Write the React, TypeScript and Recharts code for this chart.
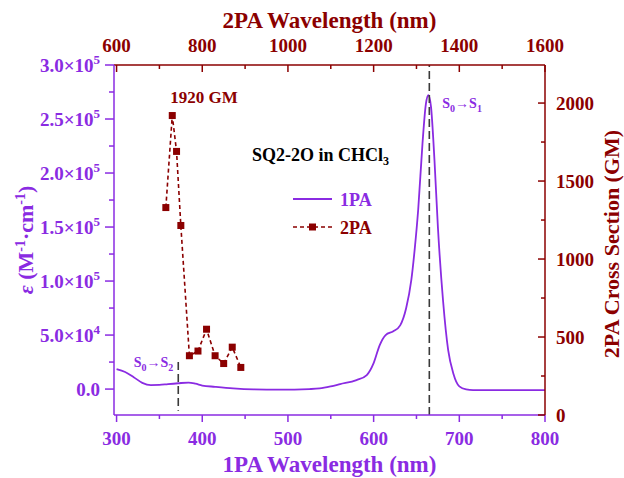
import React from 'react';
import {
  ComposedChart,
  Line,
  XAxis,
  YAxis,
  ReferenceLine,
  Label,
  LabelList,
} from 'recharts';

const PURPLE = '#8a2be2';
const DARKRED = '#8b0000';
const DASHGRAY = '#3a3a3a';
const FONT = "'Liberation Serif', 'Times New Roman', Times, serif";

// 1PA absorption: wavelength (nm) and molar extinction coefficient ε (M⁻¹·cm⁻¹)
const onePAWavelength = [
  300, 310, 320, 330, 340, 350, 360, 372, 384, 392,
  400, 415, 436, 460, 490, 525, 537, 550, 561, 580,
  592, 600, 607, 614, 623, 631, 638, 644, 648, 652,
  657, 661, 664, 667, 671, 675, 681, 687, 693, 700,
  708, 716, 750, 800,
];
const onePAEpsilon = [
  18500, 15800, 11000, 5800, 3700, 3800, 4600, 5400, 6000, 5000,
  3300, 2100, 650, -300, -600, 0, 600, 2500, 4600, 8300,
  13000, 24000, 40500, 50000, 53500, 59000, 75000, 101000, 130000, 166000,
  227000, 264000, 272000, 261000, 212000, 150000, 82000, 36000, 14500, 2500,
  -300, -900, -900, -900,
];

// 2PA cross section: excitation wavelength (nm) and σ2 (GM)
const twoPAWavelength = [715, 730, 740, 750, 770, 790, 810, 830, 850, 870, 890];
const twoPACrossSection = [1330, 1920, 1690, 1215, 380, 410, 550, 380, 330, 435, 305];

// Transition markers (nm)
const s0s1Wavelength = 665;
const s0s2Wavelength = 372;

// Axis ticks
const bottomTicks = [300, 350, 400, 450, 500, 550, 600, 650, 700, 750, 800];
const bottomMajor = [300, 400, 500, 600, 700, 800];
const topTicks = [600, 700, 800, 900, 1000, 1100, 1200, 1300, 1400, 1500, 1600];
const topMajor = [600, 800, 1000, 1200, 1400, 1600];
const leftTicks = [
  0, 25000, 50000, 75000, 100000, 125000, 150000, 175000, 200000, 225000, 250000, 275000, 300000,
];
const leftMajor = [0, 50000, 100000, 150000, 200000, 250000, 300000];
const rightTicks = [0, 250, 500, 750, 1000, 1250, 1500, 1750, 2000];
const rightMajor = [0, 500, 1000, 1500, 2000];

const onePAData = onePAWavelength.map((wl, i) => ({ wl, eps: onePAEpsilon[i] }));
const twoPAData = twoPAWavelength.map((wl, i) => ({ wl, gm: twoPACrossSection[i] }));
const peakIndex = twoPACrossSection.indexOf(Math.max(...twoPACrossSection));

const textStyle = { fontFamily: FONT, fontWeight: 700 } as const;

type Side = 'bottom' | 'top' | 'left' | 'right';

function sciLabel(v: number, color: string, x: number, y: number) {
  if (v === 0) {
    return (
      <text x={x} y={y} textAnchor="end" fill={color} fontSize={19} style={textStyle}>
        0.0
      </text>
    );
  }
  const exp = Math.floor(Math.log10(v));
  const mant = (v / Math.pow(10, exp)).toFixed(1);
  return (
    <text x={x} y={y} textAnchor="end" fill={color} fontSize={19} style={textStyle}>
      {mant}×10
      <tspan dy={-8} fontSize={13}>
        {exp}
      </tspan>
    </text>
  );
}

function makeTick(side: Side, color: string, majors: number[]) {
  return (props: any) => {
    const { x, y, payload, index } = props;
    const v = payload.value as number;
    const major = majors.includes(v);
    const len = major ? 7 : 4;
    let line: React.ReactNode = null;
    let label: React.ReactNode = null;
    if (side === 'bottom') {
      line = <line x1={x} x2={x} y1={y} y2={y + len} stroke={color} strokeWidth={1.5} />;
      if (major)
        label = (
          <text x={x} y={y + 30} textAnchor="middle" fill={color} fontSize={19} style={textStyle}>
            {v}
          </text>
        );
    } else if (side === 'top') {
      line = <line x1={x} x2={x} y1={y} y2={y + len} stroke={color} strokeWidth={1.5} />;
      if (major)
        label = (
          <text x={x} y={y - 13} textAnchor="middle" fill={color} fontSize={19} style={textStyle}>
            {v}
          </text>
        );
    } else if (side === 'left') {
      const l = major ? 9 : 5;
      line = <line x1={x - l} x2={x} y1={y} y2={y} stroke={color} strokeWidth={1.5} />;
      if (major) label = sciLabel(v, color, x - 14, y + 7);
    } else {
      line = <line x1={x - len} x2={x} y1={y} y2={y} stroke={color} strokeWidth={1.5} />;
      if (major)
        label = (
          <text x={x + 11} y={y + 7} textAnchor="start" fill={color} fontSize={19} style={textStyle}>
            {v}
          </text>
        );
    }
    return (
      <g key={`${side}-${index}`}>
        {line}
        {label}
      </g>
    );
  };
}

const SquareDot = (props: any) => {
  const { cx, cy, index } = props;
  if (cx == null || cy == null) return <g key={`sq-${index}`} />;
  return <rect key={`sq-${index}`} x={cx - 3.5} y={cy - 3.5} width={7} height={7} fill={DARKRED} />;
};

export default function App() {
  return (
    <div style={{ position: 'absolute', left: 0, top: 0, width: 624, height: 478, background: '#fff' }}>
      <ComposedChart width={624} height={478} margin={{ top: 0, right: 0, bottom: 0, left: 0 }}>
        <XAxis
          xAxisId="b"
          type="number"
          dataKey="wl"
          orientation="bottom"
          domain={[297, 800]}
          ticks={bottomTicks}
          interval={0}
          allowDataOverflow
          height={63}
          tickSize={0}
          tickMargin={0}
          tickLine={false}
          axisLine={{ stroke: PURPLE, strokeWidth: 1.5 }}
          tick={makeTick('bottom', PURPLE, bottomMajor)}
        >
          <Label
            content={(p: any) => {
              const vb = p.viewBox;
              return (
                <text x={vb.x + vb.width / 2} y={vb.y + 57} textAnchor="middle" fill={PURPLE} fontSize={23} style={textStyle}>
                  1PA Wavelength (nm)
                </text>
              );
            }}
          />
        </XAxis>
        <XAxis
          xAxisId="t"
          type="number"
          dataKey="wl"
          orientation="top"
          domain={[594, 1600]}
          ticks={topTicks}
          interval={0}
          allowDataOverflow
          height={65}
          tickSize={0}
          tickMargin={0}
          tickLine={false}
          axisLine={{ stroke: DARKRED, strokeWidth: 1.5 }}
          tick={makeTick('top', DARKRED, topMajor)}
        >
          <Label
            content={(p: any) => {
              const vb = p.viewBox;
              return (
                <text x={vb.x + vb.width / 2} y={vb.y + 28} textAnchor="middle" fill={DARKRED} fontSize={23} style={textStyle}>
                  2PA Wavelength (nm)
                </text>
              );
            }}
          />
        </XAxis>
        <YAxis
          yAxisId="l"
          type="number"
          orientation="left"
          domain={[-24000, 300000]}
          ticks={leftTicks}
          interval={0}
          allowDataOverflow
          width={114}
          tickSize={0}
          tickMargin={0}
          tickLine={false}
          axisLine={{ stroke: PURPLE, strokeWidth: 1.5 }}
          tick={makeTick('left', PURPLE, leftMajor)}
        >
          <Label
            content={(p: any) => {
              const vb = p.viewBox;
              const cx = vb.x + 33;
              const cy = vb.y + vb.height / 2;
              return (
                <text
                  x={cx}
                  y={cy}
                  transform={`rotate(-90 ${cx} ${cy})`}
                  textAnchor="middle"
                  fill={PURPLE}
                  fontSize={22}
                  style={textStyle}
                >
                  <tspan fontStyle="italic">ε</tspan> (M
                  <tspan dy={-8} fontSize={14}>-1</tspan>
                  <tspan dy={8}>·cm</tspan>
                  <tspan dy={-8} fontSize={14}>-1</tspan>
                  <tspan dy={8}>)</tspan>
                </text>
              );
            }}
          />
        </YAxis>
        <YAxis
          yAxisId="r"
          type="number"
          orientation="right"
          domain={[0, 2244]}
          ticks={rightTicks}
          interval={0}
          allowDataOverflow
          width={79}
          tickSize={0}
          tickMargin={0}
          tickLine={false}
          axisLine={{ stroke: DARKRED, strokeWidth: 1.5 }}
          tick={makeTick('right', DARKRED, rightMajor)}
        >
          <Label
            content={(p: any) => {
              const vb = p.viewBox;
              const cx = vb.x + 74;
              const cy = vb.y + vb.height / 2 + 4;
              return (
                <text
                  x={cx}
                  y={cy}
                  transform={`rotate(-90 ${cx} ${cy})`}
                  textAnchor="middle"
                  fill={DARKRED}
                  fontSize={22}
                  style={textStyle}
                >
                  2PA Cross Section (GM)
                </text>
              );
            }}
          />
        </YAxis>

        <Line
          xAxisId="b"
          yAxisId="l"
          data={onePAData}
          dataKey="eps"
          type="monotone"
          stroke={PURPLE}
          strokeWidth={1.8}
          dot={false}
          isAnimationActive={false}
        />
        <Line
          xAxisId="t"
          yAxisId="r"
          data={twoPAData}
          dataKey="gm"
          type="linear"
          stroke={DARKRED}
          strokeWidth={1.6}
          strokeDasharray="4 3"
          dot={SquareDot}
          isAnimationActive={false}
        >
          <LabelList
            dataKey="gm"
            content={(p: any) =>
              p.index === peakIndex ? (
                <text x={p.x - 2} y={p.y - 13} fill={DARKRED} fontSize={17} style={textStyle}>
                  {`${p.value} GM`}
                </text>
              ) : null
            }
          />
        </Line>

        <ReferenceLine
          xAxisId="b"
          yAxisId="l"
          x={s0s1Wavelength}
          stroke={DASHGRAY}
          strokeWidth={1.6}
          strokeDasharray="8 4"
        >
          <Label
            content={(p: any) => {
              const vb = p.viewBox;
              return (
                <text x={vb.x + 13} y={vb.y + 43} fill={PURPLE} fontSize={14} style={textStyle}>
                  S<tspan dy={4} fontSize={10}>0</tspan>
                  <tspan dy={-4}>→S</tspan>
                  <tspan dy={4} fontSize={10}>1</tspan>
                </text>
              );
            }}
          />
        </ReferenceLine>
        <ReferenceLine
          xAxisId="b"
          yAxisId="l"
          segment={[
            { x: s0s2Wavelength, y: 25000 },
            { x: s0s2Wavelength, y: -20000 },
          ]}
          stroke={DASHGRAY}
          strokeWidth={1.6}
          strokeDasharray="8 4"
        >
          <Label
            content={(p: any) => {
              const vb = p.viewBox;
              return (
                <text x={vb.x - 5} y={vb.y + 5} textAnchor="end" fill={PURPLE} fontSize={14} style={textStyle}>
                  S<tspan dy={4} fontSize={10}>0</tspan>
                  <tspan dy={-4}>→S</tspan>
                  <tspan dy={4} fontSize={10}>2</tspan>
                </text>
              );
            }}
          />
        </ReferenceLine>
      </ComposedChart>

      {/* Sample title and legend */}
      <svg
        width={624}
        height={478}
        style={{ position: 'absolute', left: 0, top: 0, pointerEvents: 'none' }}
      >
        <text x={252} y={161} fill="#000" fontSize={18} style={textStyle}>
          SQ2-2O in CHCl<tspan dy={4} fontSize={12}>3</tspan>
        </text>
        <line x1={293} x2={332} y1={199} y2={199} stroke={PURPLE} strokeWidth={1.8} />
        <text x={340} y={205.5} fill={PURPLE} fontSize={18} style={textStyle}>
          1PA
        </text>
        <line x1={293} x2={332} y1={227} y2={227} stroke={DARKRED} strokeWidth={1.6} strokeDasharray="4 3" />
        <rect x={309} y={223.5} width={7} height={7} fill={DARKRED} />
        <text x={340} y={233.5} fill={DARKRED} fontSize={18} style={textStyle}>
          2PA
        </text>
      </svg>
    </div>
  );
}
